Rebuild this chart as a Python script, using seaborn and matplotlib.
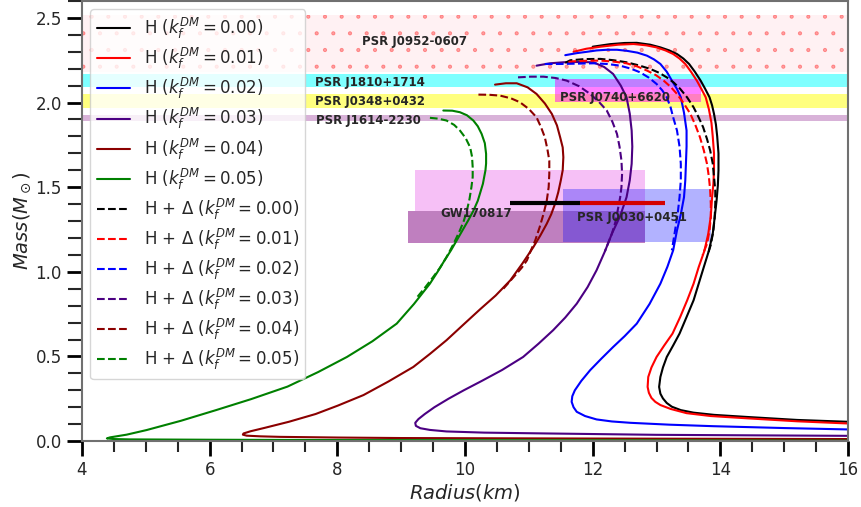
import matplotlib
matplotlib.use("Agg")
import matplotlib.pyplot as plt
from matplotlib.patches import Rectangle
from matplotlib.ticker import MultipleLocator
import seaborn as sns

# ---------------- data ----------------
kf_labels = ["0.00", "0.01", "0.02", "0.03", "0.04", "0.05"]
colors = ["black", "red", "blue", "#4b0082", "#8b0000", "green"]

# H (solid) curves : radius (km), mass (Msun)
H000_R = [12.00, 12.27, 12.50, 12.69, 12.90, 13.06, 13.20, 13.32, 13.42, 13.51, 13.60, 13.69, 13.76, 13.83, 13.87, 13.90, 13.93, 13.95, 13.97, 13.97, 13.96, 13.94, 13.91, 13.88, 13.82, 13.74, 13.66, 13.58, 13.47, 13.36, 13.26, 13.16, 13.10, 13.06, 13.04, 13.06, 13.10, 13.16, 13.24, 13.38, 13.58, 13.90, 14.40, 15.20, 16.00, 16.50]
H000_M = [2.330, 2.345, 2.352, 2.353, 2.342, 2.326, 2.308, 2.287, 2.260, 2.228, 2.182, 2.130, 2.082, 2.031, 1.983, 1.933, 1.870, 1.800, 1.700, 1.600, 1.510, 1.420, 1.320, 1.225, 1.125, 1.028, 0.930, 0.832, 0.733, 0.635, 0.565, 0.497, 0.435, 0.379, 0.320, 0.280, 0.252, 0.225, 0.203, 0.183, 0.168, 0.155, 0.143, 0.125, 0.114, 0.110]

H001_R = [11.70, 11.90, 12.12, 12.40, 12.64, 12.84, 13.00, 13.14, 13.26, 13.36, 13.45, 13.54, 13.63, 13.70, 13.77, 13.82, 13.86, 13.88, 13.90, 13.90, 13.89, 13.87, 13.85, 13.81, 13.75, 13.66, 13.58, 13.48, 13.37, 13.25, 13.12, 13.00, 12.92, 12.87, 12.86, 12.88, 12.92, 12.98, 13.06, 13.22, 13.47, 13.85, 14.40, 15.20, 16.00, 16.50]
H001_M = [2.300, 2.318, 2.330, 2.342, 2.346, 2.338, 2.326, 2.308, 2.287, 2.260, 2.228, 2.182, 2.130, 2.082, 2.031, 1.960, 1.880, 1.800, 1.700, 1.600, 1.520, 1.440, 1.330, 1.225, 1.125, 1.028, 0.930, 0.832, 0.733, 0.635, 0.565, 0.497, 0.435, 0.379, 0.320, 0.285, 0.255, 0.232, 0.213, 0.190, 0.165, 0.148, 0.135, 0.117, 0.104, 0.100]

H002_R = [11.57, 11.75, 11.91, 12.06, 12.22, 12.38, 12.53, 12.70, 12.85, 12.96, 13.06, 13.16, 13.24, 13.32, 13.38, 13.43, 13.47, 13.47, 13.46, 13.45, 13.43, 13.38, 13.32, 13.26, 13.17, 13.06, 12.89, 12.69, 12.50, 12.32, 12.13, 11.96, 11.82, 11.72, 11.68, 11.67, 11.70, 11.75, 11.88, 12.06, 12.30, 12.59, 13.20, 13.89, 15.00, 15.98, 16.50]
H002_M = [2.280, 2.292, 2.300, 2.308, 2.312, 2.312, 2.306, 2.295, 2.277, 2.255, 2.228, 2.182, 2.130, 2.080, 2.031, 1.940, 1.835, 1.740, 1.638, 1.540, 1.441, 1.340, 1.245, 1.127, 1.030, 0.930, 0.810, 0.694, 0.620, 0.556, 0.485, 0.419, 0.355, 0.300, 0.265, 0.232, 0.200, 0.173, 0.148, 0.128, 0.116, 0.108, 0.097, 0.088, 0.077, 0.069, 0.066]

H003_R = [11.12, 11.33, 11.54, 11.78, 12.01, 12.18, 12.32, 12.44, 12.53, 12.58, 12.61, 12.62, 12.61, 12.58, 12.53, 12.43, 12.30, 12.19, 12.06, 11.92, 11.75, 11.57, 11.38, 11.15, 10.91, 10.58, 10.26, 9.98, 9.74, 9.52, 9.37, 9.27, 9.22, 9.23, 9.30, 9.45, 9.71, 10.30, 11.30, 13.00, 16.00, 16.50]
H003_M = [2.218, 2.232, 2.238, 2.240, 2.238, 2.210, 2.169, 2.100, 2.031, 1.935, 1.835, 1.740, 1.638, 1.540, 1.441, 1.330, 1.225, 1.120, 1.009, 0.910, 0.812, 0.730, 0.655, 0.575, 0.497, 0.420, 0.355, 0.300, 0.250, 0.200, 0.160, 0.130, 0.108, 0.090, 0.076, 0.066, 0.057, 0.050, 0.045, 0.037, 0.031, 0.030]

H004_R = [10.47, 10.64, 10.81, 10.98, 11.12, 11.25, 11.36, 11.44, 11.49, 11.53, 11.54, 11.53, 11.50, 11.46, 11.41, 11.35, 11.28, 11.18, 11.07, 10.90, 10.71, 10.48, 10.24, 9.98, 9.71, 9.45, 9.19, 8.80, 8.41, 8.01, 7.66, 7.24, 6.86, 6.64, 6.53, 6.52, 6.58, 6.80, 7.10, 8.00, 9.00, 12.00, 16.00, 16.50]
H004_M = [2.106, 2.114, 2.114, 2.090, 2.051, 1.995, 1.933, 1.865, 1.795, 1.735, 1.677, 1.600, 1.540, 1.470, 1.402, 1.340, 1.284, 1.215, 1.146, 1.050, 0.950, 0.860, 0.780, 0.690, 0.596, 0.515, 0.438, 0.352, 0.272, 0.210, 0.160, 0.114, 0.078, 0.058, 0.045, 0.038, 0.032, 0.028, 0.025, 0.021, 0.018, 0.015, 0.012, 0.012]

H005_R = [9.66, 9.80, 9.92, 10.03, 10.13, 10.20, 10.26, 10.31, 10.33, 10.33, 10.32, 10.28, 10.20, 10.13, 10.05, 9.96, 9.87, 9.78, 9.68, 9.57, 9.45, 9.20, 8.93, 8.55, 8.15, 7.70, 7.22, 6.65, 6.10, 5.55, 5.01, 4.70, 4.44, 4.39, 4.50, 4.75, 6.00, 8.00, 16.00, 16.50]
H005_M = [1.953, 1.952, 1.943, 1.925, 1.894, 1.860, 1.815, 1.760, 1.697, 1.640, 1.600, 1.520, 1.420, 1.360, 1.304, 1.245, 1.186, 1.127, 1.068, 1.000, 0.930, 0.810, 0.694, 0.590, 0.497, 0.408, 0.322, 0.248, 0.183, 0.120, 0.065, 0.038, 0.022, 0.016, 0.012, 0.010, 0.008, 0.006, 0.003, 0.003]

# H + Delta (dashed) curves
HD000_R = [11.57, 11.65, 11.88, 12.12, 12.33, 12.53, 12.72, 12.90, 13.04, 13.16, 13.27, 13.37, 13.48, 13.58, 13.66, 13.73, 13.79, 13.84, 13.88, 13.90, 13.92, 13.92, 13.91, 13.89, 13.85, 13.80]
HD000_M = [2.235, 2.250, 2.257, 2.258, 2.250, 2.238, 2.220, 2.199, 2.176, 2.149, 2.118, 2.081, 2.030, 1.972, 1.912, 1.854, 1.785, 1.717, 1.640, 1.559, 1.480, 1.402, 1.320, 1.245, 1.160, 1.100]

HD001_R = [11.62, 11.70, 11.90, 12.12, 12.33, 12.53, 12.70, 12.85, 12.99, 13.11, 13.22, 13.32, 13.43, 13.53, 13.61, 13.68, 13.74, 13.79, 13.82, 13.84, 13.85, 13.85, 13.83, 13.79, 13.72]
HD001_M = [2.240, 2.244, 2.247, 2.248, 2.242, 2.232, 2.213, 2.189, 2.162, 2.130, 2.093, 2.051, 1.993, 1.933, 1.865, 1.795, 1.718, 1.638, 1.560, 1.481, 1.400, 1.323, 1.245, 1.165, 1.100]

HD002_R = [11.25, 11.49, 11.75, 12.01, 12.23, 12.43, 12.60, 12.74, 12.88, 13.00, 13.09, 13.16, 13.22, 13.26, 13.32, 13.36, 13.38, 13.38, 13.36, 13.33, 13.29, 13.24]
HD002_M = [2.228, 2.228, 2.230, 2.232, 2.228, 2.218, 2.200, 2.179, 2.147, 2.110, 2.072, 2.031, 1.972, 1.913, 1.835, 1.740, 1.638, 1.540, 1.441, 1.340, 1.245, 1.127]

HD003_R = [10.83, 11.03, 11.23, 11.42, 11.59, 11.79, 11.96, 12.10, 12.22, 12.31, 12.38, 12.42, 12.45, 12.46, 12.45, 12.43, 12.40, 12.36, 12.30, 12.19]
HD003_M = [2.149, 2.153, 2.153, 2.145, 2.130, 2.096, 2.051, 2.003, 1.953, 1.885, 1.815, 1.740, 1.658, 1.580, 1.500, 1.440, 1.380, 1.300, 1.225, 1.120]

HD004_R = [10.21, 10.38, 10.55, 10.72, 10.86, 11.00, 11.12, 11.19, 11.25, 11.29, 11.32, 11.32, 11.31, 11.28, 11.23, 11.17, 11.10, 11.03, 10.97, 10.89, 10.81, 10.60]
HD004_M = [2.047, 2.046, 2.041, 2.025, 2.002, 1.962, 1.913, 1.855, 1.795, 1.725, 1.658, 1.580, 1.500, 1.420, 1.343, 1.265, 1.186, 1.125, 1.068, 1.025, 0.990, 0.900]

HD005_R = [9.45, 9.58, 9.71, 9.83, 9.92, 10.01, 10.08, 10.11, 10.12, 10.12, 10.10, 10.07, 10.03, 9.98, 9.92, 9.82, 9.71, 9.61, 9.50, 9.38, 9.25]
HD005_M = [1.910, 1.905, 1.894, 1.868, 1.835, 1.790, 1.736, 1.680, 1.618, 1.560, 1.500, 1.430, 1.363, 1.300, 1.245, 1.165, 1.087, 1.025, 0.969, 0.910, 0.850]

H_R = [H000_R, H001_R, H002_R, H003_R, H004_R, H005_R]
H_M = [H000_M, H001_M, H002_M, H003_M, H004_M, H005_M]
HD_R = [HD000_R, HD001_R, HD002_R, HD003_R, HD004_R, HD005_R]
HD_M = [HD000_M, HD001_M, HD002_M, HD003_M, HD004_M, HD005_M]

# observational constraints
band_names = ["PSR J0952-0607", "PSR J1810+1714", "PSR J0348+0432", "PSR J1614-2230"]
band_lo = [2.18, 2.09, 1.97, 1.892]
band_hi = [2.52, 2.17, 2.05, 1.924]
band_colors = ["#ffc0cb", "cyan", "yellow", "purple"]
band_alpha = [0.22, 0.5, 0.5, 0.3]
band_text_R = [8.39, 7.65, 7.65, 7.67]
band_text_M = [2.36, 2.12, 2.006, 1.892]

rect_names = ["PSR J0740+6620", "GW170817", "", "PSR J0030+0451"]
rect_R0 = [11.41, 9.22, 9.11, 11.54]
rect_R1 = [13.69, 12.82, 12.82, 13.85]
rect_M0 = [2.006, 1.36, 1.17, 1.174]
rect_M1 = [2.139, 1.60, 1.36, 1.487]
rect_colors = ["magenta", "violet", "purple", "blue"]
rect_alpha = [0.5, 0.5, 0.5, 0.3]
rect_text_R = [11.49, 9.61, None, 11.76]
rect_text_M = [2.03, 1.345, None, 1.32]

R14_black = [10.71, 11.80]
R14_red = [11.80, 13.13]
M14 = [1.404, 1.404]

# ---------------- plotting ----------------
sns.set_style("ticks")
plt.rcParams["font.family"] = ["DejaVu Sans"]
plt.rcParams["mathtext.fontset"] = "dejavusans"
plt.rcParams["hatch.linewidth"] = 0.6

fig, ax = plt.subplots(figsize=(8.61, 5.07), dpi=100)
fig.subplots_adjust(left=0.0952, right=0.985, bottom=0.130, top=0.998)

for lo, hi, c, a in zip(band_lo, band_hi, band_colors, band_alpha):
    ax.axhspan(lo, hi, facecolor=c, alpha=a, lw=0, zorder=0)
# red speckles on the J0952 band
ax.axhspan(band_lo[0], band_hi[0], facecolor="none", edgecolor="red", hatch=".",
           lw=0, alpha=0.35, zorder=0)

for r0, r1, m0, m1, c, a in zip(rect_R0, rect_R1, rect_M0, rect_M1, rect_colors, rect_alpha):
    ax.add_patch(Rectangle((r0, m0), r1 - r0, m1 - m0, facecolor=c, alpha=a, lw=0, zorder=0.5))

for name, r, m in zip(band_names, band_text_R, band_text_M):
    ax.text(r, m, name, fontsize=8.5, fontweight="bold", va="center", ha="left", zorder=5)
for name, r, m in zip(rect_names, rect_text_R, rect_text_M):
    if name:
        ax.text(r, m, name, fontsize=8.5, fontweight="bold", va="center", ha="left", zorder=5)

for R, M, c, k in zip(H_R, H_M, colors, kf_labels):
    sns.lineplot(x=R, y=M, sort=False, estimator=None, color=c, lw=1.5, ax=ax,
                 label=r"H ($k_f^{DM}=" + k + r"$)")
for R, M, c, k in zip(HD_R, HD_M, colors, kf_labels):
    sns.lineplot(x=R, y=M, sort=False, estimator=None, color=c, lw=1.5, ax=ax,
                 linestyle="--", label=r"H + $\Delta$ ($k_f^{DM}=" + k + r"$)")

ax.plot(R14_black, M14, color="black", lw=3, solid_capstyle="butt", zorder=4)
ax.plot(R14_red, M14, color="#d40000", lw=3, solid_capstyle="butt", zorder=4)

ax.set_xlim(4, 16)
ax.set_ylim(0, 2.6)
ax.xaxis.set_major_locator(MultipleLocator(2))
ax.xaxis.set_minor_locator(MultipleLocator(0.5))
ax.yaxis.set_major_locator(MultipleLocator(0.5))
ax.yaxis.set_minor_locator(MultipleLocator(0.1))
ax.tick_params(which="major", length=11, width=2, direction="out", labelsize=12, color="black")
ax.tick_params(axis="x", which="minor", length=8, width=1.5, direction="out")
ax.tick_params(axis="y", which="minor", length=10, width=1.5, direction="out")
for sp in ax.spines.values():
    sp.set_color("#707070")
    sp.set_linewidth(1.5)

ax.set_xlabel(r"$Radius(km)$", fontsize=14, labelpad=2)
ax.set_ylabel(r"$Mass(M_\odot)$", fontsize=14, labelpad=2)

ax.legend(loc="upper left", fontsize=12, framealpha=0.8, labelspacing=0.3)

fig.savefig("out.png", dpi=100)
